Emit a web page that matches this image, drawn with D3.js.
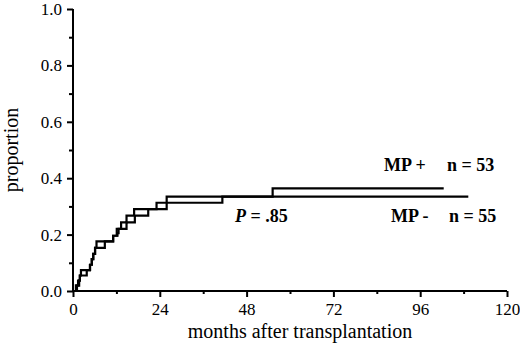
<!DOCTYPE html>
<html><head><meta charset="utf-8">
<script src="https://cdn.jsdelivr.net/npm/d3@7"></script>
<style>body{margin:0;background:#fff}svg{display:block}text{font-family:"Liberation Serif","Times New Roman",serif}</style>
</head><body><svg id="c" width="520" height="351"></svg>
<script>
// Data
const mpPlusTimes  = [0, 1.1, 1.7, 1.9, 3.8, 4.7, 5.2, 5.6, 6.1, 8.8, 11.1, 12.3, 12.6, 14.8, 17.1, 20.8, 23.1, 41.3, 55.2];
const mpPlusValues = [0, 0.019, 0.038, 0.055, 0.074, 0.093, 0.113, 0.132, 0.153, 0.176, 0.196, 0.205, 0.22, 0.243, 0.267, 0.29, 0.313, 0.335, 0.364];
const mpPlusEnd = 102.5;
const mpMinusTimes  = [0, 0.8, 1.4, 1.9, 2.2, 4.7, 5.2, 5.6, 6.1, 6.5, 11.1, 12.1, 13.3, 14.8, 16.9, 25.9];
const mpMinusValues = [0, 0.02, 0.037, 0.055, 0.074, 0.093, 0.113, 0.132, 0.153, 0.176, 0.196, 0.22, 0.243, 0.267, 0.29, 0.335];
const mpMinusEnd = 109.3;
const xTicks = [0, 24, 48, 72, 96, 120];
const xMinorTicks = [12, 36, 60, 84, 108];
const yTicks = [0, 0.2, 0.4, 0.6, 0.8, 1.0];
const yMinorTicks = [0.1, 0.3, 0.5, 0.7, 0.9];
const groupLabels = ["MP +", "MP -"];
const nLabels = ["n = 53", "n = 55"];
const pValueText = ".85";
const xTitle = "months after transplantation";
const yTitle = "proportion";

const W = 520, H = 351;
const m = {left: 73, right: 13, top: 9, bottom: 60};
const svg = d3.select("#c");
const font = "Liberation Serif, Times New Roman, serif";

const x = d3.scaleLinear().domain([0, 120]).range([m.left, W - m.right]);
const y = d3.scaleLinear().domain([0, 1]).range([H - m.bottom, m.top]);

// axes
const gx = svg.append("g").attr("transform", `translate(0,${y(0)})`);
gx.call(d3.axisBottom(x).tickValues(xTicks).tickSize(6).tickFormat(d3.format("d")));
const gxm = svg.append("g").attr("transform", `translate(0,${y(0)})`);
gxm.call(d3.axisBottom(x).tickValues(xMinorTicks).tickSize(3).tickFormat(""));
const gy = svg.append("g").attr("transform", `translate(${x(0)},0)`);
gy.call(d3.axisLeft(y).tickValues(yTicks).tickSize(6).tickFormat(d3.format(".1f")));
const gym = svg.append("g").attr("transform", `translate(${x(0)},0)`);
gym.call(d3.axisLeft(y).tickValues(yMinorTicks).tickSize(4).tickFormat(""));

[gx, gxm, gy, gym].forEach(g => {
  g.attr("font-family", font).attr("font-size", 17);
  g.select(".domain").attr("stroke", "#000").attr("stroke-width", 2);
  g.selectAll(".tick line").attr("stroke", "#000").attr("stroke-width", 2);
  g.selectAll(".tick text").attr("fill", "#000");
});
gx.selectAll(".tick text").attr("dy", "0.9em");
gy.selectAll(".tick text").attr("x", -11);
gxm.select(".domain").remove();
gym.select(".domain").remove();
gx.select(".domain").attr("d", `M${x(0)},0H${x(120)}`);
gy.select(".domain").attr("d", `M0,${y(1)}V${y(0)}`);

// step curves
const line = d3.line().x(d => x(d[0])).y(d => y(d[1])).curve(d3.curveStepAfter);
function pts(ts, vs, end) {
  const p = ts.map((t, i) => [t, vs[i]]);
  p.push([end, vs[vs.length - 1]]);
  return p;
}
svg.append("path").datum(pts(mpMinusTimes, mpMinusValues, mpMinusEnd))
  .attr("d", line).attr("fill", "none").attr("stroke", "#000").attr("stroke-width", 2.2);
svg.append("path").datum(pts(mpPlusTimes, mpPlusValues, mpPlusEnd))
  .attr("d", line).attr("fill", "none").attr("stroke", "#000").attr("stroke-width", 2.2);

// labels
const lab = (tx, px, py) => svg.append("text").attr("x", px).attr("y", py)
  .attr("font-family", font).attr("font-weight", "bold").attr("font-size", 18).attr("fill", "#000").text(tx);
lab(groupLabels[0], 384, 171);
lab(nLabels[0], 447, 171);
lab(groupLabels[1], 391, 222);
lab(nLabels[1], 449, 222);
const pt = svg.append("text").attr("x", 235).attr("y", 222)
  .attr("font-family", font).attr("font-weight", "bold").attr("font-size", 18).attr("fill", "#000");
pt.append("tspan").attr("font-style", "italic").text("P");
pt.append("tspan").text(" = " + pValueText);

svg.append("text").attr("x", (x(0) + x(120)) / 2 + 10).attr("y", 338).attr("text-anchor", "middle")
  .attr("font-family", font).attr("font-size", 20).attr("fill", "#000").text(xTitle);
svg.append("text").attr("transform", `translate(18,${y(0.5)}) rotate(-90)`).attr("text-anchor", "middle")
  .attr("font-family", font).attr("font-size", 20).attr("fill", "#000").text(yTitle);
</script></body></html>
